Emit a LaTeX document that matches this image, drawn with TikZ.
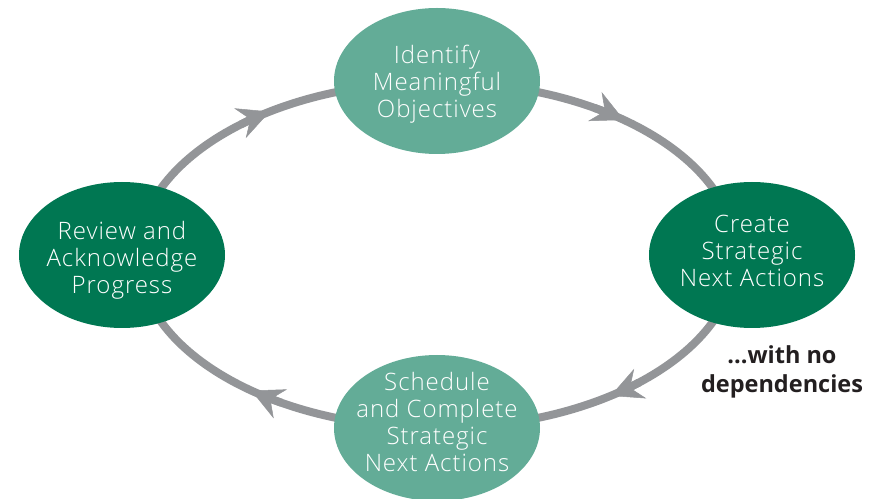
\documentclass[tikz,border=0pt]{standalone}
\usepackage{fontspec}
\setmainfont{Open Sans}
\newfontfamily\lightfont{Open Sans Light}[LetterSpace=4]
\usetikzlibrary{shapes.geometric,arrows.meta}
\definecolor{ringgrey}{RGB}{147,149,152}
\definecolor{darkgreen}{RGB}{0,119,82}
\definecolor{lightgreen}{RGB}{99,172,151}
\definecolor{textblack}{RGB}{35,31,32}
\begin{document}
\begin{tikzpicture}[x=1pt,y=1pt,
  stage/.style={ellipse, minimum width=206pt, minimum height=146pt, inner sep=0pt},
  darkstage/.style={stage, fill=darkgreen},
  lightstage/.style={stage, fill=lightgreen},
  stagetext/.style={text=white, align=center, inner sep=0pt,
    font=\lightfont\fontsize{24}{27}\selectfont},
  ring/.style={draw=ringgrey, line width=8pt},
  ringtip/.style={ring, -{Stealth[length=32pt,width=32pt,inset=11pt,line width=0.5pt]}}]
\useasboundingbox (0,0) rectangle (886,498);
\coordinate (c) at (437,243);
\draw[ring] (c) ellipse[x radius=299pt, y radius=173pt];
\foreach \a in {124.0,51.3,-54.5,231.6}
  \draw[ringtip] ([shift={(c)}]\a+7:299pt and 173pt)
    arc[start angle=\a+7, end angle=\a, x radius=299pt, y radius=173pt];
\node[lightstage] (obj) at (437,417) {};
\node[darkstage] (create) at (752,243) {};
\node[lightstage] (sched) at (437,70) {};
\node[darkstage] (review) at (122,243) {};
\node[stagetext] (objtext) at ([yshift=-3pt]obj.center) {Identify\\Meaningful\\Objectives};
\node[stagetext] (createtext) at ([yshift=4pt]create.center) {Create\\Strategic\\Next Actions};
\node[stagetext] (schedtext) at ([yshift=6pt]sched.center) {Schedule\\and Complete\\Strategic\\Next Actions};
\node[stagetext] (reviewtext) at ([yshift=-5pt]review.center) {Review and\\Acknowledge\\Progress};
\node[font=\bfseries\fontsize{23.5}{29}\selectfont, text=textblack, align=center]
  (dep) at (782,126) {...with no\\dependencies};
\end{tikzpicture}
\end{document}
